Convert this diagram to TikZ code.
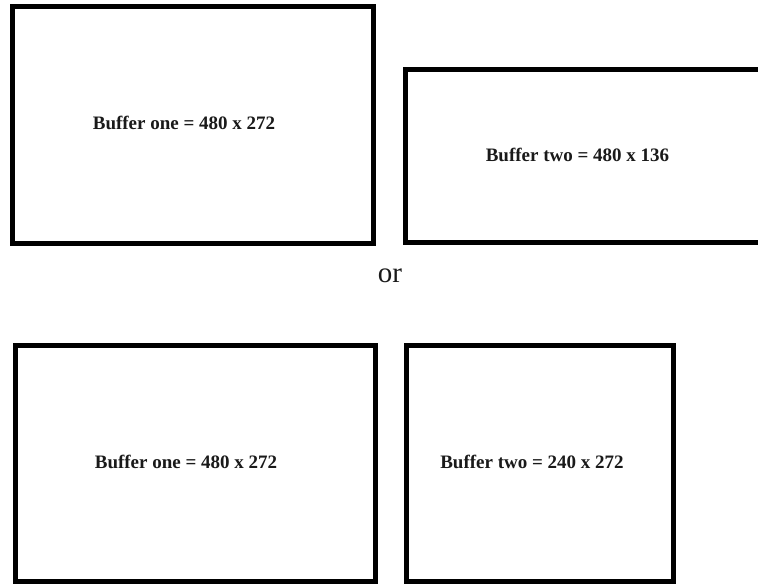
\documentclass[tikz,border=0pt]{standalone}
\usepackage{fontspec}
\setmainfont{Liberation Serif}
\usetikzlibrary{positioning}
\definecolor{inkblk}{HTML}{1A1A1A}

\begin{document}
\begin{tikzpicture}[
  x=1pt, y=-1pt,
  bufbox/.style={draw=black, line width=5pt, inner sep=0pt, fill=white},
  buflabel/.style={font=\fontsize{19}{23}\selectfont\bfseries, text=inkblk, inner sep=0pt},
]
\useasboundingbox (0,0) rectangle (758,584);

% ============ First layout ============
\node[bufbox, minimum width=361pt, minimum height=237pt] (oneA) at (193,125) {};
\node[buflabel] (oneAtxt) at (184,123) {Buffer one = 480 x 272};

\node[bufbox, minimum width=358pt, minimum height=173pt] (twoA) at (584,156) {};
\node[buflabel] (twoAtxt) at (577.5,155) {Buffer two = 480 x 136};

% or
\node[font=\fontsize{29}{34}\selectfont, text=inkblk, inner sep=0pt] (or) at (390,276) {or};

% ============ Second layout ============
\node[bufbox, minimum width=360pt, minimum height=236pt] (oneB) at (195,463) {};
\node[buflabel] (oneBtxt) at (186,462) {Buffer one = 480 x 272};

\node[bufbox, minimum width=267pt, minimum height=236pt] (twoB) at (540,463) {};
\node[buflabel] (twoBtxt) at (532,462) {Buffer two = 240 x 272};

\end{tikzpicture}
\end{document}
